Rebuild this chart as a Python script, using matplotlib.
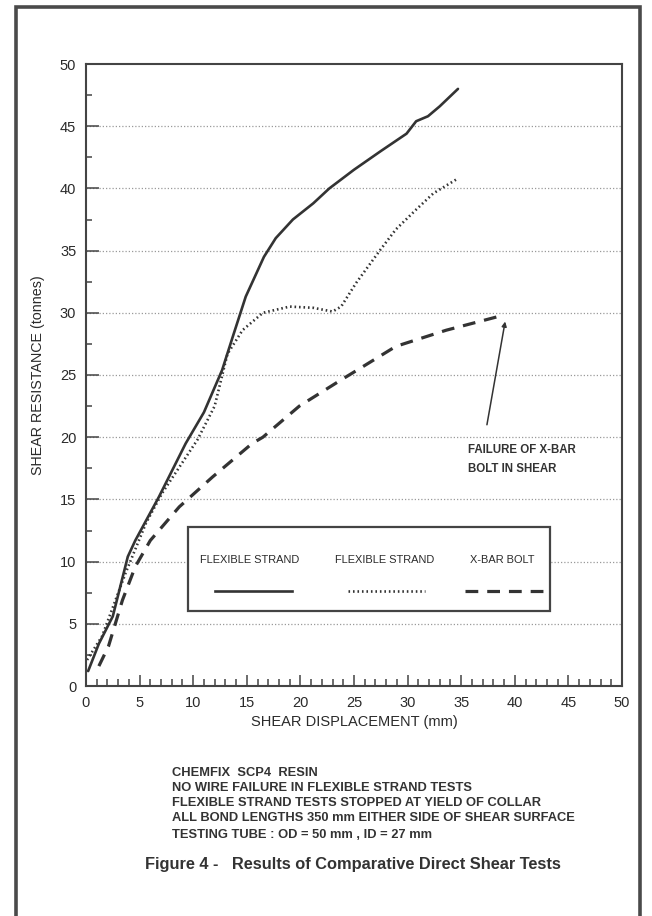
import numpy as np
import matplotlib
matplotlib.use('Agg')
import matplotlib.pyplot as plt
from matplotlib.patches import Rectangle
from matplotlib.lines import Line2D
from matplotlib.ticker import MultipleLocator

plt.rcParams['font.family'] = ['Liberation Sans', 'DejaVu Sans']

# flexible strand (solid)
solid_x = [0.2, 1.2, 2.5, 3.9, 4.6, 6.8, 9.3, 11.0, 12.7, 13.7, 14.9, 16.6, 17.7,
           19.3, 21.2, 22.7, 25.0, 27.5, 29.9, 30.8, 31.9, 33.0, 34.7]
solid_y = [1.2, 3.4, 5.6, 10.4, 11.7, 15.2, 19.5, 22.0, 25.4, 28.1, 31.3, 34.5, 36.0,
           37.5, 38.8, 40.0, 41.5, 43.0, 44.4, 45.4, 45.8, 46.6, 48.0]
# flexible strand (dotted)
dotted_x = [0.1, 1.5, 3.7, 5.6, 7.1, 10.4, 12.0, 13.2, 14.6, 16.5, 19.0, 21.2, 23.0,
            23.8, 25.2, 27.4, 28.9, 30.8, 32.4, 34.7]
dotted_y = [2.1, 4.0, 9.1, 13.1, 15.5, 19.8, 22.5, 26.7, 28.6, 30.0, 30.5, 30.4, 30.1,
            30.5, 32.4, 35.0, 36.7, 38.3, 39.6, 40.8]
# x-bar bolt (dashed)
dashed_x = [1.2, 2.1, 3.4, 4.6, 6.0, 8.7, 11.8, 15.5, 16.5, 19.9, 23.6, 25.5, 28.9,
            33.6, 38.9]
dashed_y = [1.6, 3.2, 6.9, 9.6, 11.7, 14.4, 16.8, 19.5, 20.0, 22.5, 24.5, 25.5, 27.3,
            28.6, 29.8]

legend_labels = ['FLEXIBLE STRAND', 'FLEXIBLE STRAND', 'X-BAR BOLT']
notes = ['CHEMFIX  SCP4  RESIN',
         'NO WIRE FAILURE IN FLEXIBLE STRAND TESTS',
         'FLEXIBLE STRAND TESTS STOPPED AT YIELD OF COLLAR',
         'ALL BOND LENGTHS 350 mm EITHER SIDE OF SHEAR SURFACE',
         'TESTING TUBE : OD = 50 mm , ID = 27 mm']
caption = 'Figure 4 -   Results of Comparative Direct Shear Tests'

W, H = 652, 916
ink = '#333333'

fig = plt.figure(figsize=(W / 100, H / 100), dpi=100)
fig.patch.set_facecolor('white')

def fx(px):
    return px / W

def fy(py):
    return 1 - py / H

# outer frame
fig.patches.append(Rectangle((fx(16), fy(930)), fx(640) - fx(16), fy(7) - fy(930),
                             transform=fig.transFigure, fill=False, lw=2.6,
                             edgecolor='#4a4a4a'))

ax = fig.add_axes([fx(86), fy(686), fx(622) - fx(86), fy(64) - fy(686)])
ax.set_xlim(0, 50)
ax.set_ylim(0, 50)

for y in range(5, 50, 5):
    ax.axhline(y, color='#9a9a9a', lw=0.9, ls=(0, (1, 1.6)), zorder=0)

ax.plot(solid_x, solid_y, color=ink, lw=1.9, solid_capstyle='round')
ax.plot(dotted_x, dotted_y, color=ink, lw=1.9, ls=(0, (0.6, 1.1)))
ax.plot(dashed_x, dashed_y, color=ink, lw=2.3, ls=(0, (4, 2.8)))

ax.annotate('', xy=(39.1, 29.3), xytext=(37.4, 21.0),
            arrowprops=dict(arrowstyle='-|>', color=ink, lw=1.1,
                            mutation_scale=7, shrinkA=0, shrinkB=0))
ax.text(35.6, 18.95, 'FAILURE OF X-BAR', fontsize=8.3, fontweight='bold',
        color=ink, va='center')
ax.text(35.6, 17.45, 'BOLT IN SHEAR', fontsize=8.3, fontweight='bold',
        color=ink, va='center')

for s in ax.spines.values():
    s.set_linewidth(1.5)
    s.set_color('#444444')

ax.xaxis.set_major_locator(MultipleLocator(5))
ax.xaxis.set_minor_locator(MultipleLocator(1))
ax.yaxis.set_major_locator(MultipleLocator(5))
ax.yaxis.set_minor_locator(MultipleLocator(2.5))
ax.tick_params(which='both', direction='in', color='#444444', width=1.1,
               labelsize=10.5, labelcolor='#2a2a2a', pad=7)
ax.tick_params(axis='x', which='major', length=8)
ax.tick_params(axis='x', which='minor', length=4.7)
ax.tick_params(axis='y', which='major', length=9)
ax.tick_params(axis='y', which='minor', length=4.3)

ax.set_xlabel('SHEAR DISPLACEMENT (mm)', fontsize=10.5, color='#2a2a2a', labelpad=4)
ax.set_ylabel('SHEAR RESISTANCE (tonnes)', fontsize=10.3, color='#2a2a2a', labelpad=11)

# legend box drawn by hand: labels above line samples
fig.patches.append(Rectangle((fx(188), fy(611)), fx(550) - fx(188), fy(527) - fy(611),
                             transform=fig.transFigure, fill=True, facecolor='white',
                             lw=1.6, edgecolor='#444444', zorder=5))
label_cx = [250, 385, 502]
sample_x = [(215, 292), (348, 425), (465, 543)]
styles = [dict(ls='-', lw=1.9), dict(ls=(0, (0.6, 1.1)), lw=1.9),
          dict(ls=(0, (4, 2.8)), lw=2.3)]
for lab, cx, (x0, x1), st in zip(legend_labels, label_cx, sample_x, styles):
    fig.text(fx(cx), fy(560), lab, fontsize=7.9, color='#2a2a2a',
             ha='center', va='center', zorder=6)
    fig.lines.append(Line2D([fx(x0), fx(x1)], [fy(591), fy(591)],
                            transform=fig.transFigure, color=ink, zorder=6, **st))

note_y = [773, 788, 803, 818, 835]
for txt, y in zip(notes, note_y):
    fig.text(fx(172), fy(y), txt, fontsize=9.3, fontweight='bold',
             color='#333333', va='center')

fig.text(fx(353), fy(865), caption, fontsize=11.8, fontweight='bold',
         color='#333333', ha='center', va='center')

fig.savefig('out.png', dpi=100)
